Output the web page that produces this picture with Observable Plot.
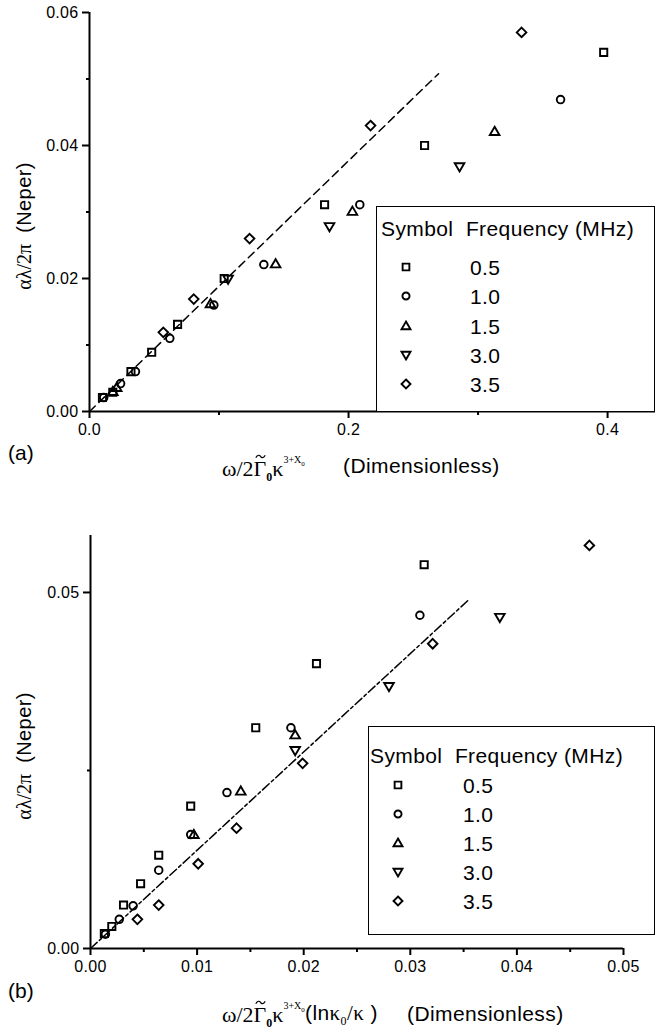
<!DOCTYPE html>
<html><head><meta charset="utf-8">
<script src="https://cdn.jsdelivr.net/npm/d3@7"></script>
<script src="https://cdn.jsdelivr.net/npm/@observablehq/plot@0.6"></script>
<style>
body{margin:0;background:#fff;}
#root{position:relative;width:663px;height:1032px;overflow:hidden;font-family:"Liberation Sans",Arial,sans-serif;color:#000;background:#fff;}
.abs{position:absolute;white-space:pre;line-height:1;}
.serif{font-family:"Liberation Serif","Times New Roman",serif;}
.wide{letter-spacing:0.4px;}
sub,sup{line-height:0;}
</style></head><body><div id="root"></div>
<script>
// ---------- data ----------
const freqLabels = ["0.5", "1.0", "1.5", "3.0", "3.5"];

// panel (a)
const aSquare   = [[0.010,0.0021],[0.018,0.0029],[0.032,0.0060],[0.048,0.0089],[0.068,0.0131],[0.104,0.0200],[0.1815,0.0311],[0.2587,0.0400],[0.397,0.0540]];
const aCircle   = [[0.011,0.0021],[0.024,0.0042],[0.0355,0.0060],[0.062,0.0110],[0.096,0.0160],[0.1346,0.0221],[0.2087,0.0311],[0.3637,0.0469]];
const aTriUp    = [[0.018,0.0030],[0.021,0.0036],[0.0934,0.0162],[0.1437,0.0222],[0.203,0.0301],[0.3128,0.0421]];
const aTriDown  = [[0.107,0.0199],[0.1853,0.0278],[0.2857,0.0368]];
const aDiamond  = [[0.057,0.0119],[0.0805,0.0169],[0.1236,0.0260],[0.217,0.0430],[0.3336,0.0570]];
const aFit      = [[0,0],[0.2695,0.0508]];
const aXTicks = [0, 0.2, 0.4], aXMinor = [0.1, 0.3];
const aYTicks = [0, 0.02, 0.04, 0.06], aYMinor = [0.01, 0.03, 0.05];

// panel (b)
const bSquare   = [[0.0013,0.0021],[0.0020,0.0031],[0.0031,0.0061],[0.0047,0.0091],[0.0064,0.0131],[0.0094,0.0200],[0.0155,0.0310],[0.0212,0.0400],[0.0313,0.0539]];
const bCircle   = [[0.0014,0.0020],[0.0027,0.0041],[0.0040,0.0060],[0.0064,0.0110],[0.0094,0.0160],[0.0128,0.0219],[0.0188,0.0310],[0.0309,0.0468]];
const bTriUp    = [[0.0097,0.0160],[0.0141,0.0221],[0.0192,0.0300]];
const bTriDown  = [[0.0192,0.0278],[0.0280,0.0368],[0.0384,0.0465]];
const bDiamond  = [[0.0044,0.0041],[0.0064,0.0061],[0.0101,0.0119],[0.0137,0.0169],[0.0199,0.0260],[0.0321,0.0428],[0.0468,0.0566]];
const bFit      = [[0,0],[0.0355,0.0490]];
const bXTicks = [0, 0.01, 0.02, 0.03, 0.04, 0.05], bXMinor = [0.005, 0.015, 0.025, 0.035, 0.045];
const bYTicks = [0, 0.05], bYMinor = [0.025];

// ---------- symbols ----------
const K = s => Math.sqrt(s / Math.PI) / 4;
const symSquare = {draw(c, s){const h = 3.6*K(s); c.moveTo(-h,-h); c.lineTo(h,-h); c.lineTo(h,h); c.lineTo(-h,h); c.closePath();}};
const symCircle = {draw(c, s){const r = 3.8*K(s); c.moveTo(r,0); c.arc(0,0,r,0,2*Math.PI);}};
const symTriUp  = {draw(c, s){const k = K(s); c.moveTo(0,-4.7*k); c.lineTo(4.8*k,3.5*k); c.lineTo(-4.8*k,3.5*k); c.closePath();}};
const symTriDown= {draw(c, s){const k = K(s); c.moveTo(0,4.7*k); c.lineTo(4.8*k,-3.5*k); c.lineTo(-4.8*k,-3.5*k); c.closePath();}};
const symDiamond= {draw(c, s){const k = K(s), d = 4.8*k; c.moveTo(0,-d); c.lineTo(d,0); c.lineTo(0,d); c.lineTo(-d,0); c.closePath();}};
const symbols = [symSquare, symCircle, symTriUp, symTriDown, symDiamond];

const root = document.getElementById("root");
const blank = () => "";

function panel(cfg) {
  const series = cfg.series;
  const marks = [];
  marks.push(Plot.line(cfg.fit, {x: d => d[0], y: d => d[1], stroke: "black", strokeWidth: 1.5, strokeDasharray: cfg.dash}));
  series.forEach((data, i) => {
    marks.push(Plot.dot(data, {x: d => d[0], y: d => d[1], symbol: symbols[i], r: 4, stroke: "black", strokeWidth: 1.9, fill: "none"}));
  });
  marks.push(
    Plot.axisY({ticks: cfg.yTicks, tickFormat: d3.format(".2f"), tickSize: 7, tickPadding: 4, strokeWidth: 2, fontSize: 16, label: null}),
    Plot.axisY({ticks: cfg.yMinor, tickFormat: blank, tickSize: 3, strokeWidth: 2, label: null}),
    Plot.axisX({ticks: cfg.xTicks, tickFormat: d3.format(cfg.xFmt), tickSize: 7, tickPadding: 5, strokeWidth: 2, fontSize: 16, label: null}),
    Plot.axisX({ticks: cfg.xMinor, tickFormat: blank, tickSize: 4, strokeWidth: 2, label: null}),
    Plot.ruleX([0], {strokeWidth: 2}),
    Plot.ruleY([0], {strokeWidth: 2})
  );
  const svg = Plot.plot({
    width: 663, height: cfg.height,
    marginLeft: cfg.ml, marginRight: cfg.mr, marginTop: cfg.mt, marginBottom: cfg.mb,
    x: {domain: cfg.xDomain}, y: {domain: cfg.yDomain},
    style: {fontFamily: "Liberation Sans, Arial, sans-serif", fontSize: "16px", color: "black", background: "transparent", overflow: "visible", letterSpacing: "0.3px"},
    marks
  });
  svg.style.position = "absolute";
  svg.style.left = "0px";
  svg.style.top = cfg.top + "px";
  root.appendChild(svg);
}

panel({top: 0, height: 440, ml: 89, mr: 8, mt: 12, mb: 29, xDomain: [0, 0.437], yDomain: [0, 0.06],
  xTicks: aXTicks, xMinor: aXMinor, yTicks: aYTicks, yMinor: aYMinor, xFmt: ".1f",
  series: [aSquare, aCircle, aTriUp, aTriDown, aDiamond], fit: aFit, dash: "8,5"});
panel({top: 520, height: 460, ml: 90, mr: 40, mt: 15, mb: 32, xDomain: [0, 0.05], yDomain: [0, 0.058],
  xTicks: bXTicks, xMinor: bXMinor, yTicks: bYTicks, yMinor: bYMinor, xFmt: ".2f",
  series: [bSquare, bCircle, bTriUp, bTriDown, bDiamond], fit: bFit, dash: "9,3,3,3"});

// ---------- text helpers ----------
function put(html, left, cy, size, cls) {
  const el = document.createElement("div");
  el.className = "abs " + (cls || "");
  el.style.left = left + "px";
  el.style.top = cy + "px";
  el.style.fontSize = size + "px";
  el.style.transform = "translateY(-50%)";
  el.innerHTML = html;
  root.appendChild(el);
  return el;
}
function yLabel(cx, cy) {
  const el = document.createElement("div");
  el.className = "abs";
  el.style.left = cx + "px";
  el.style.top = cy + "px";
  el.style.fontSize = "20px";
  el.style.transform = "translate(-50%,-50%) rotate(-90deg)";
  el.innerHTML = '<span class="serif">αλ/2π</span>  <span class="wide">(Neper)</span>';
  root.appendChild(el);
}
// tilde over Gamma drawn as a tiny svg path (not text)
const tildeSVG = '<svg width="11" height="5" viewBox="0 0 11 5" style="position:absolute;left:1px;top:-4px"><path d="M0.8,3.8 C2.5,0.5 4.5,0.8 5.5,2.4 C6.5,4 8.5,4.4 10.2,1.2" fill="none" stroke="#000" stroke-width="1.2"/></svg>';
const gammaTilde = '<span style="position:relative;display:inline-block">Γ' + tildeSVG + '</span>';
const omegaHTML = '<span class="serif">ω/2' + gammaTilde + '<sub style="font-size:12px;font-weight:bold">0</sub>κ<sup style="font-size:10px;position:relative;top:-5px">3+X<sub style="font-size:7px">0</sub></sup></span>';

yLabel(24, 226);
yLabel(24, 756);
put("(a)", 8, 452, 21);
put("(b)", 8, 990, 21);
put(omegaHTML, 222, 469, 22);
put("(Dimensionless)", 343, 465, 21, "wide");
put(omegaHTML, 222, 1015, 22);
put('(ln<span class="serif">κ<sub style="font-size:12px">0</sub>/κ</span> )', 305, 1013, 21, "wide");
put("(Dimensionless)", 407, 1013, 21, "wide");

// ---------- legends ----------
function legend(L) {
  const box = document.createElement("div");
  box.style.cssText = `position:absolute;left:${L.left}px;top:${L.top}px;width:${L.right-L.left}px;height:${L.bottom-L.top}px;border:1.5px solid #000;box-sizing:border-box;background:#fff;`;
  root.appendChild(box);
  put("Symbol  Frequency (MHz)", L.hx, L.hy, 21, "wide");
  freqLabels.forEach((lab, i) => {
    const cy = L.row0 + i * L.dy;
    const p = d3.symbol().type(symbols[i]).size(14 * Math.PI)();
    const s = document.createElement("div");
    s.style.cssText = `position:absolute;left:${L.sx-8}px;top:${cy-8}px;width:16px;height:16px;`;
    s.innerHTML = `<svg width="16" height="16" viewBox="-8 -8 16 16"><path d="${p}" fill="none" stroke="#000" stroke-width="1.9"/></svg>`;
    root.appendChild(s);
    put(lab, L.tx, cy, 21, "wide");
  });
}
legend({left: 376, top: 206, right: 655, bottom: 412, hx: 381, hy: 228, sx: 406, tx: 470, row0: 267, dy: 29.3});
legend({left: 368, top: 726, right: 655, bottom: 935, hx: 370, hy: 755, sx: 398, tx: 463, row0: 785, dy: 29});
</script></body></html>
